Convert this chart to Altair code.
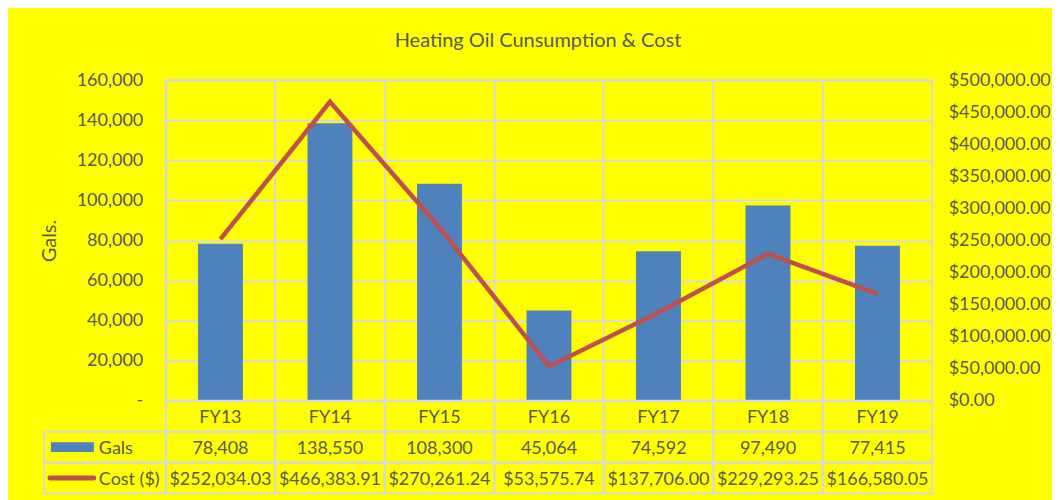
import altair as alt
import pandas as pd

# ---- data ----
years = ["FY13", "FY14", "FY15", "FY16", "FY17", "FY18", "FY19"]
gals = [78408, 138550, 108300, 45064, 74592, 97490, 77415]
cost = [252034.03, 466383.91, 270261.24, 53575.74, 137706.00, 229293.25, 166580.05]
row_keys = ["cat", "Gals", "Cost"]
row_labels = {"Gals": "Gals", "Cost": "Cost ($)"}
left_ticks = [0, 20000, 40000, 60000, 80000, 100000, 120000, 140000, 160000]
right_ticks = [0, 50000, 100000, 150000, 200000, 250000, 300000, 350000, 400000, 450000, 500000]

BLUE = "#4f81bd"
RED = "#c0504d"
GRID = "#d9d9d9"
TXT = "#595959"
FONT = "Lato"
FS = 18

df = pd.DataFrame({"year": years, "gals": gals, "cost": cost})

xband = alt.Scale(domain=years, paddingInner=0, paddingOuter=0)
yrows = alt.Scale(domain=row_keys, paddingInner=0, paddingOuter=0)

W, H = 768, 321
LW, TH = 122, 93

# ---- main plot ----
x_plot = alt.X("year:N", scale=xband, sort=years,
               axis=alt.Axis(grid=True, bandPosition=0, labels=False, ticks=False,
                             domain=False, title=None, gridColor=GRID, gridWidth=2))

bars = alt.Chart(df).mark_bar(color=BLUE, width=alt.RelativeBandSize(0.41)).encode(
    x=x_plot,
    y=alt.Y("gals:Q", scale=alt.Scale(domain=[0, 160000], nice=False),
            axis=alt.Axis(values=left_ticks, grid=True, gridColor=GRID, gridWidth=2,
                          ticks=False, domain=False, labelPadding=23,
                          labelExpr="datum.value == 0 ? '-\u00a0\u00a0' : format(datum.value, ',')",
                          title="Gals.", titleAngle=-90, titleAlign="center",
                          titleBaseline="middle", titleX=-116, titleY=H / 2,
                          titleFont=FONT, titleFontSize=20, titleColor=TXT,
                          titleFontWeight="normal")),
)

line = alt.Chart(df).mark_line(color=RED, strokeWidth=4.5).encode(
    x=alt.X("year:N", scale=xband, sort=years),
    y=alt.Y("cost:Q", scale=alt.Scale(domain=[0, 500000], nice=False),
            axis=alt.Axis(orient="right", values=right_ticks, grid=False, ticks=False,
                          domain=False, labelPadding=16, format="$,.2f", title=None)),
)

plot = alt.layer(bars, line).resolve_scale(y="independent").properties(
    width=W, height=H,
    title=alt.Title("Heating Oil Cunsumption & Cost", anchor="middle", frame="group",
                    dx=-11, offset=4, baseline="alphabetic", font=FONT, fontSize=20,
                    color=TXT, fontWeight="normal"),
    view=alt.ViewBackground(stroke=GRID, strokeWidth=2),
)

# ---- empty top-left cell ----
empty = alt.Chart(pd.DataFrame({"a": [0]})).mark_point(opacity=0).properties(
    width=LW, height=H, view=alt.ViewBackground(stroke=None))

# ---- data table values ----
trows = []
for y, g, c in zip(years, gals, cost):
    trows.append({"year": y, "row": "cat", "txt": y})
    trows.append({"year": y, "row": "Gals", "txt": f"{g:,}"})
    trows.append({"year": y, "row": "Cost", "txt": f"${c:,.2f}"})
tdf = pd.DataFrame(trows)

tx = alt.X("year:N", scale=xband, sort=years, axis=None)
ty = alt.Y("row:N", scale=yrows, sort=row_keys, axis=None)
tcells = alt.Chart(tdf).mark_rect(fillOpacity=0, stroke=GRID, strokeWidth=2).encode(x=tx, y=ty)
ttext = alt.Chart(tdf).mark_text(font=FONT, fontSize=FS, color=TXT, baseline="middle", dy=2).encode(
    x=tx, y=ty, text="txt:N")
table = alt.layer(tcells, ttext).properties(
    width=W, height=TH, view=alt.ViewBackground(stroke=None))

# ---- legend / label column ----
ldf = pd.DataFrame({"col": ["k", "k"], "row": ["Gals", "Cost"],
                    "label": [row_labels["Gals"], row_labels["Cost"]]})
lx = alt.X("col:N", scale=alt.Scale(paddingInner=0, paddingOuter=0), axis=None)
ly = alt.Y("row:N", scale=yrows, sort=row_keys, axis=None)

cells = alt.Chart(ldf).mark_rect(fillOpacity=0, stroke=GRID, strokeWidth=2).encode(x=lx, y=ly)
key_g = alt.Chart(ldf[ldf.row == "Gals"]).mark_rule(color=BLUE, strokeWidth=10).encode(
    x=alt.value(7), x2=alt.value(50), y=ly)
key_c = alt.Chart(ldf[ldf.row == "Cost"]).mark_rule(color=RED, strokeWidth=5, strokeCap="round").encode(
    x=alt.value(6), x2=alt.value(50), y=ly)
ltxt = alt.Chart(ldf).mark_text(font=FONT, fontSize=FS, color=TXT, align="left",
                                baseline="middle", dy=2).encode(x=alt.value(55), y=ly, text="label:N")
labels = alt.layer(cells, key_g, key_c, ltxt).properties(
    width=LW, height=TH, view=alt.ViewBackground(stroke=None))

chart = alt.concat(empty, plot, labels, table, columns=2, spacing=0, bounds="flush").properties(
    padding={"left": 31, "right": 0, "top": 22, "bottom": 7},
    background="#ffff00",
).configure_axis(
    labelFont=FONT, labelFontSize=FS, labelColor=TXT,
).configure_view(stroke=None)

chart.save("out.html", embed_options={"renderer": "svg", "actions": False})
